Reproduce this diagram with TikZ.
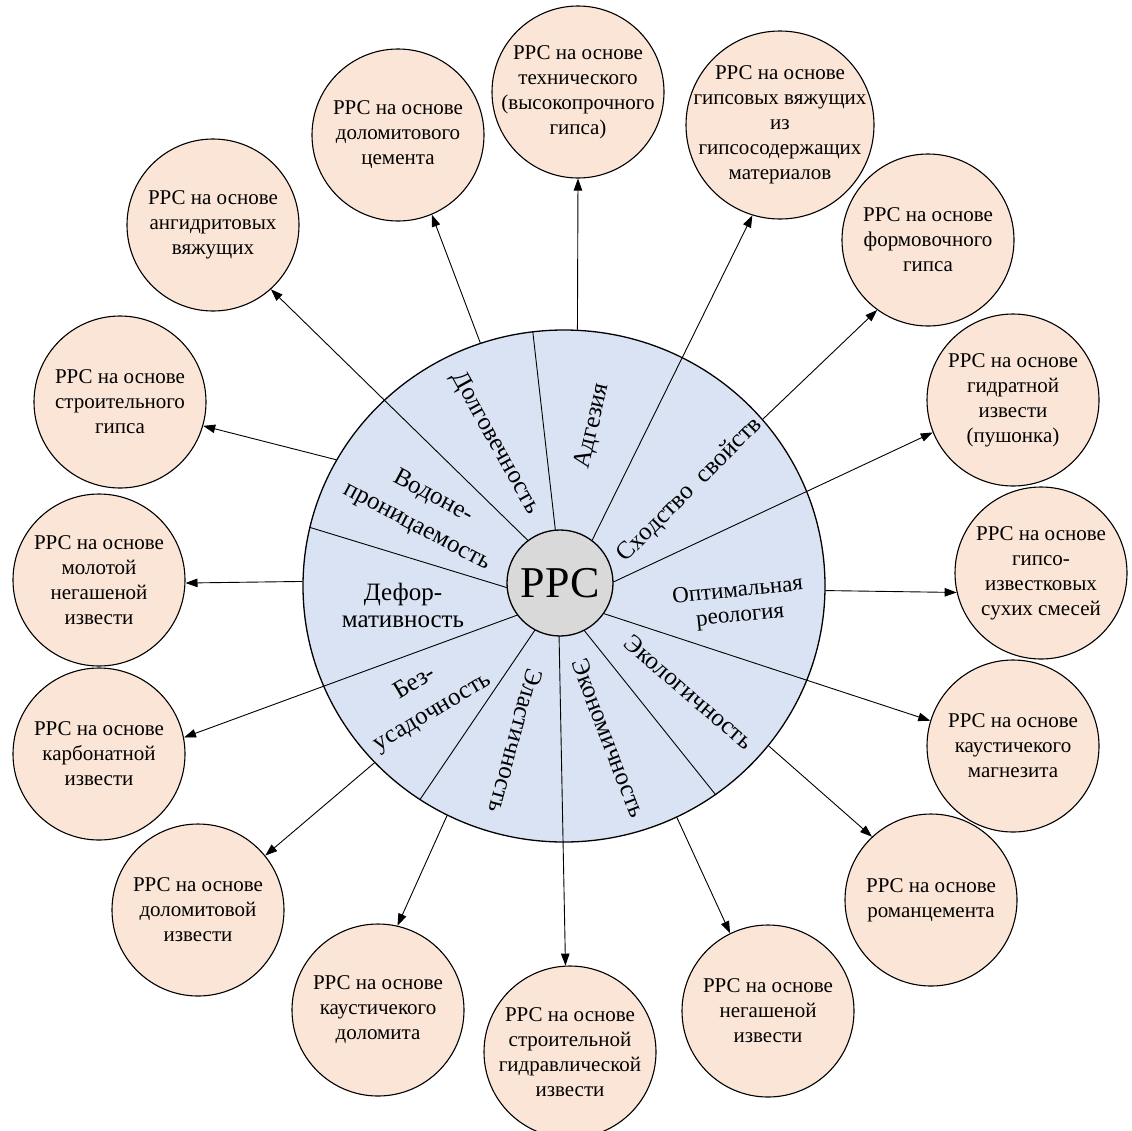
\documentclass[tikz,border=0pt]{standalone}
\usepackage{fontspec}
\setmainfont{Liberation Serif}
\usetikzlibrary{arrows.meta,shapes.geometric}
\definecolor{peach}{HTML}{FBE5D6}
\definecolor{lblue}{HTML}{DAE3F3}
\definecolor{cgray}{HTML}{D9D9D9}
\begin{document}
\begin{tikzpicture}[x=1pt,y=-1pt,
  outer/.style={circle,draw=black,line width=1.1pt,fill=peach,minimum size=172pt,inner sep=0pt},
  otext/.style={align=center,font=\fontsize{21}{25}\selectfont,inner sep=0pt},
  arr/.style={line width=0.9pt,-{Triangle[length=12pt,width=8.5pt]}},
  divline/.style={line width=0.9pt},
  seclab/.style={align=center,inner sep=0pt,font=\fontsize{25}{30}\selectfont}
]
\useasboundingbox (0,0) rectangle (1132,1130);

% outer circles
\node[outer] (dcem) at (398,135) {};
\node[outer] (tech) at (578,92) {};
\node[outer,minimum size=188pt] (gvyaz) at (780,125) {};
\node[outer] (form) at (928,240) {};
\node[outer] (push) at (1013,400) {};
\node[outer] (gizv) at (1041,573) {};
\node[outer] (magn) at (1013,746) {};
\node[outer] (roman) at (931,900) {};
\node[outer] (neg) at (768,1011) {};
\node[outer] (gidr) at (570,1052) {};
\node[outer] (kdol) at (378,1010) {};
\node[outer] (dizv) at (198,910) {};
\node[outer] (karb) at (99,754) {};
\node[outer] (mol) at (99,580) {};
\node[outer] (stgips) at (120,402) {};
\node[outer] (angid) at (213,225) {};

\node[otext] (t1) at (dcem) {РРС на основе\\доломитового\\цемента};
\node[otext] (t2) at (tech) {РРС на основе\\технического\\(высокопрочного\\гипса)};
\node[otext] (t3) at (gvyaz) {РРС на основе\\гипсовых вяжущих\\из\\гипсосодержащих\\материалов};
\node[otext] (t4) at (form) {РРС на основе\\формовочного\\гипса};
\node[otext] (t5) at (push) {РРС на основе\\гидратной\\извести\\(пушонка)};
\node[otext] (t6) at (gizv) {РРС на основе\\гипсо-\\известковых\\сухих смесей};
\node[otext] (t7) at (magn) {РРС на основе\\каустичекого\\магнезита};
\node[otext] (t8) at (roman) {РРС на основе\\романцемента};
\node[otext] (t9) at (neg) {РРС на основе\\негашеной\\извести};
\node[otext] (t10) at (gidr) {РРС на основе\\строительной\\гидравлической\\извести};
\node[otext] (t11) at (kdol) {РРС на основе\\каустичекого\\доломита};
\node[otext] (t12) at (dizv) {РРС на основе\\доломитовой\\извести};
\node[otext] (t13) at (karb) {РРС на основе\\карбонатной\\извести};
\node[otext] (t14) at (mol) {РРС на основе\\молотой\\негашеной\\извести};
\node[otext] (t15) at (stgips) {РРС на основе\\строительного\\гипса};
\node[otext] (t16) at (angid) {РРС на основе\\ангидритовых\\вяжущих};

% big wheel
\node[ellipse,draw=black,line width=1.3pt,fill=lblue,minimum width=522pt,minimum height=512pt,inner sep=0pt] (big) at (564,586) {};

% centre node (placed first for anchors, redrawn on top)
\node[circle,minimum size=106pt,inner sep=0pt] (ppc) at (560,583) {};

% dividers
\draw[divline] (ppc.95.4) -- (big.97.7);
\draw[divline] (ppc.-63.6) -- (big.-54.2);
\draw[divline] (ppc.242) -- (big.236.6);
\draw[divline] (ppc.185.7) -- (big.167.4);

% arrows from centre
\draw[arr] (ppc.127.8) -- (angid.-48.3);
\draw[arr] (ppc.53.3) -- (gvyaz.253.2);
\draw[arr] (ppc.1.4) -- (push.202.7);
\draw[arr] (ppc.-35) -- (magn.163.4);
\draw[arr] (ppc.-91.9) -- (gidr.93.3);
\draw[arr] (ppc.217) -- (karb.11.3);

% arrows from wheel edge
\draw[arr] (big.109.5) -- (dcem.-67.7);
\draw[arr] (big.87) -- (tech.-90);
\draw[arr] (big.40.3) -- (form.234.5);
\draw[arr] (big.-1.3) -- (gizv.193.5);
\draw[arr] (big.-38.6) -- (roman.133.6);
\draw[arr] (big.-64.3) -- (neg.116.3);
\draw[arr] (big.243.7) -- (kdol.77);
\draw[arr] (big.223) -- (dizv.39.3);
\draw[arr] (big.179.3) -- (mol.-2);
\draw[arr] (big.151.9) -- (stgips.-16.6);

% centre circle
\node[circle,draw=black,line width=1.3pt,fill=cgray,minimum size=106pt,inner sep=0pt,font=\fontsize{44}{50}\selectfont] (ppcc) at (ppc) {РРС};

% sector labels
\node[seclab,rotate=-61] (lDolg) at (495,443) {Долговечность};
\node[seclab,rotate=77] (lAdg) at (593,426) {Адгезия};
\node[seclab,rotate=45] (lSkh) at (690,490) {Сходство\ \ свойств};
\node[seclab,rotate=6,font=\fontsize{23}{25}\selectfont] (lOpt) at (739,604) {Оптимальная\\реология};
\node[seclab,rotate=-40.6] (lEkol) at (689,692) {Экологичность};
\node[seclab,rotate=-69] (lEkon) at (609,738) {Экономичность};
\node[seclab,rotate=-105] (lElas) at (516,741) {Эластичность};
\node[seclab,rotate=31,font=\fontsize{25}{34}\selectfont] (lBez) at (424,698) {Без-\\усадочность};
\node[seclab,font=\fontsize{25}{27}\selectfont] (lDef) at (403,605) {Дефор-\\мативность};
\node[seclab,rotate=-28,font=\fontsize{25}{34}\selectfont] (lVod) at (425,512) {Водоне-\\проницаемость};
\end{tikzpicture}
\end{document}
